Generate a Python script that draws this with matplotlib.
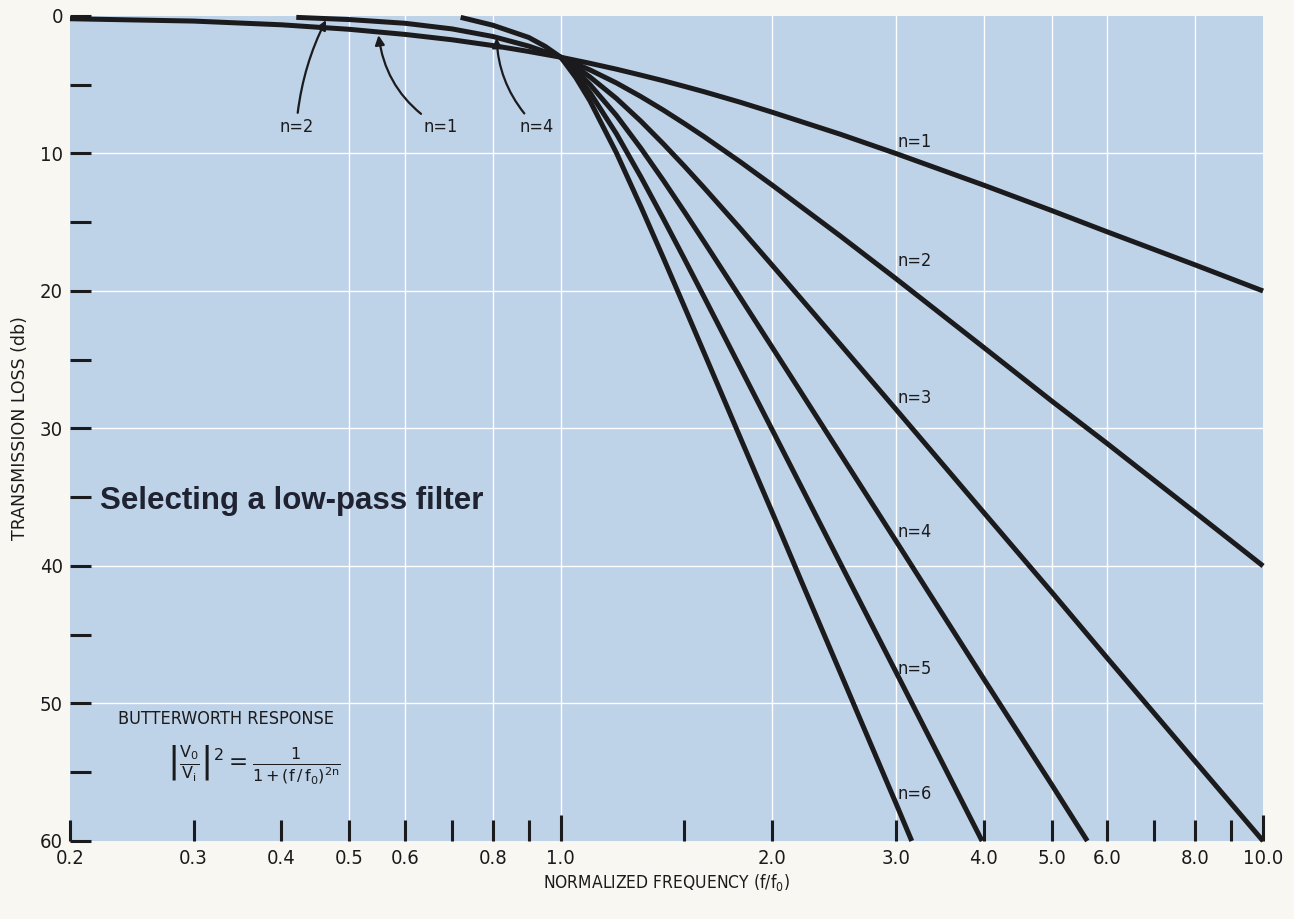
import matplotlib
matplotlib.use("Agg")
import matplotlib.pyplot as plt
from matplotlib.ticker import FixedLocator, NullFormatter

plt.rcParams["mathtext.default"] = "regular"

# values (frequency f/f0, loss in db)
n1_f = [0.2, 0.3, 0.4, 0.5, 0.6, 0.7, 0.8, 0.9, 1.0, 1.1, 1.2, 1.3, 1.4, 1.5, 1.6, 1.8,
        2.0, 2.5, 3.0, 4.0, 5.0, 6.0, 8.0, 10.0]
n1_db = [0.2, 0.37, 0.64, 0.97, 1.34, 1.73, 2.15, 2.58, 3.0, 3.44, 3.87, 4.3, 4.71, 5.12,
         5.51, 6.27, 7.0, 8.6, 10.0, 12.3, 14.15, 15.7, 18.1, 20.0]

n2_f = [0.42, 0.5, 0.6, 0.7, 0.8, 0.9, 1.0, 1.1, 1.2, 1.3, 1.4, 1.5, 1.6, 1.8, 2.0, 2.5,
        3.0, 4.0, 5.0, 6.0, 8.0, 10.0]
n2_db = [0.1, 0.26, 0.53, 0.94, 1.49, 2.19, 3.0, 3.92, 4.87, 5.86, 6.85, 7.83, 8.78, 10.6,
         12.3, 16.0, 19.1, 24.1, 28.0, 31.1, 36.1, 40.0]

n3_f = [1.0, 1.05, 1.1, 1.2, 1.3, 1.4, 1.5, 1.6, 1.8, 2.0, 2.2, 2.5, 3.0, 4.0, 5.0, 6.0,
        8.0, 10.0]
n3_db = [3.0, 3.69, 4.43, 6.0, 7.65, 9.31, 10.93, 12.5, 15.44, 18.13, 20.58, 23.88, 28.6,
         36.1, 41.9, 46.7, 54.2, 60.0]

n4_f = [0.72, 0.8, 0.9, 0.95, 1.0, 1.05, 1.1, 1.2, 1.3, 1.4, 1.5, 1.6, 1.8, 2.0, 2.2, 2.5,
        3.0, 4.0, 5.0, 5.62]
n4_db = [0.1, 0.67, 1.56, 2.21, 3.0, 3.94, 4.98, 7.24, 9.62, 11.97, 14.25, 16.43, 20.46,
         24.1, 27.4, 31.84, 38.17, 48.2, 55.9, 60.0]

n5_f = [1.0, 1.05, 1.1, 1.2, 1.3, 1.4, 1.5, 1.6, 1.8, 2.0, 2.2, 2.5, 3.0, 3.5, 3.98]
n5_db = [3.0, 4.2, 5.56, 8.57, 11.7, 14.76, 17.68, 20.45, 25.54, 30.1, 34.24, 39.8, 47.7,
         54.4, 60.0]

n6_f = [1.0, 1.05, 1.1, 1.2, 1.3, 1.4, 1.5, 1.6, 1.8, 2.0, 2.2, 2.5, 3.0, 3.16]
n6_db = [3.0, 4.47, 6.17, 9.96, 13.86, 17.61, 21.16, 24.51, 30.64, 36.1, 41.1, 47.75,
         57.25, 60.0]

curves = [(n1_f, n1_db), (n2_f, n2_db), (n3_f, n3_db),
          (n4_f, n4_db), (n5_f, n5_db), (n6_f, n6_db)]

# labels on the right side, placed at the 3.0 grid line
right_labels = ["n=1", "n=2", "n=3", "n=4", "n=5", "n=6"]
right_label_db = [9.2, 17.8, 27.8, 37.5, 47.5, 56.6]

x_major = [0.2, 0.3, 0.4, 0.5, 0.6, 0.8, 1.0, 2.0, 3.0, 4.0, 5.0, 6.0, 8.0, 10.0]
x_major_labels = ["0.2", "0.3", "0.4", "0.5", "0.6", "0.8", "1.0",
                  "2.0", "3.0", "4.0", "5.0", "6.0", "8.0", "10.0"]
x_minor = [0.7, 0.9, 1.5, 7.0, 9.0]
x_grid = [0.5, 0.6, 0.8, 1.0, 2.0, 3.0, 4.0, 5.0, 6.0, 8.0]
y_major = [0, 10, 20, 30, 40, 50, 60]
y_minor = [5, 15, 25, 35, 45, 55]

ink = "#1b1b1d"
tint = "#bed2e8"
paper = "#f9f7f2"
cond = dict(family="DejaVu Sans", stretch="condensed")

fig = plt.figure(figsize=(12.94, 9.19), dpi=100, facecolor=paper)
ax = fig.add_axes([0.0541, 0.0849, 0.922, 0.8977])
ax.set_facecolor(tint)
ax.set_xscale("log")
ax.set_xlim(0.2, 10)
ax.set_ylim(60, 0)
for s in ax.spines.values():
    s.set_visible(False)

# white grid of the printed tint
for g in x_grid:
    ax.axvline(g, color="white", lw=1.0, zorder=1)
for g in y_major[1:-1]:
    ax.axhline(g, color="white", lw=1.0, zorder=1)

for f, db in curves:
    ax.plot(f, db, color=ink, lw=3.6, solid_capstyle="butt", solid_joinstyle="round",
            zorder=3, clip_on=False)

for lab, yv in zip(right_labels, right_label_db):
    ax.text(3.02, yv, lab, fontsize=13, color=ink, ha="left", va="center", **cond)

# arrowed labels near the top
arrow = dict(arrowstyle="-|>", color=ink, lw=1.6, mutation_scale=14, shrinkA=2, shrinkB=0)
ax.annotate("n=2", xy=(0.463, 0.3), xytext=(0.42, 8.1), fontsize=13, color=ink,
            ha="center", va="center",
            arrowprops=dict(arrow, connectionstyle="arc3,rad=-0.1"), **cond)
ax.annotate("n=1", xy=(0.55, 1.4), xytext=(0.675, 8.1), fontsize=13, color=ink,
            ha="center", va="center",
            arrowprops=dict(arrow, connectionstyle="arc3,rad=-0.25"), **cond)
ax.annotate("n=4", xy=(0.81, 1.6), xytext=(0.925, 8.1), fontsize=13, color=ink,
            ha="center", va="center",
            arrowprops=dict(arrow, connectionstyle="arc3,rad=-0.2"), **cond)

ax.text(0.2206, 35.3, "Selecting a low-pass filter", fontsize=22.5, fontweight="bold",
        family="Liberation Sans", color="#1e2231", ha="left", va="center")

ax.text(0.234, 51.1, "BUTTERWORTH RESPONSE", fontsize=13, color=ink,
        ha="left", va="center", **cond)
ax.text(0.275, 54.5, r"$\left|\frac{V_0}{V_i}\right|^2=\frac{1}{1+(f\,/\,f_0)^{2n}}$",
        fontsize=16.5, color=ink, ha="left", va="center")

# ticks
ax.xaxis.set_major_locator(FixedLocator(x_major))
ax.xaxis.set_minor_locator(FixedLocator(x_minor))
ax.set_xticklabels(x_major_labels)
ax.xaxis.set_minor_formatter(NullFormatter())
ax.yaxis.set_major_locator(FixedLocator(y_major))
ax.yaxis.set_minor_locator(FixedLocator(y_minor))
ax.tick_params(axis="both", which="both", direction="in", color=ink, width=2.2,
               length=15, labelcolor=ink, labelsize=14.5)
ax.tick_params(axis="x", pad=6)
ax.tick_params(axis="y", pad=5)
for lab in ax.get_xticklabels() + ax.get_yticklabels():
    lab.set_family("DejaVu Sans")
    lab.set_stretch("condensed")
# the 1.0 and 10.0 marks are a bit longer
for t, v in zip(ax.xaxis.get_major_ticks(), x_major):
    if v in (1.0, 10.0):
        t.tick1line.set_markersize(19)

ax.set_xlabel(r"NORMALIZED FREQUENCY (f/f$_0$)", fontsize=12.5, color=ink, labelpad=3, **cond)
ax.set_ylabel("TRANSMISSION LOSS (db)", fontsize=12.5, color=ink, labelpad=8,
              family="DejaVu Sans")

fig.savefig("out.png", dpi=100, facecolor=paper)
